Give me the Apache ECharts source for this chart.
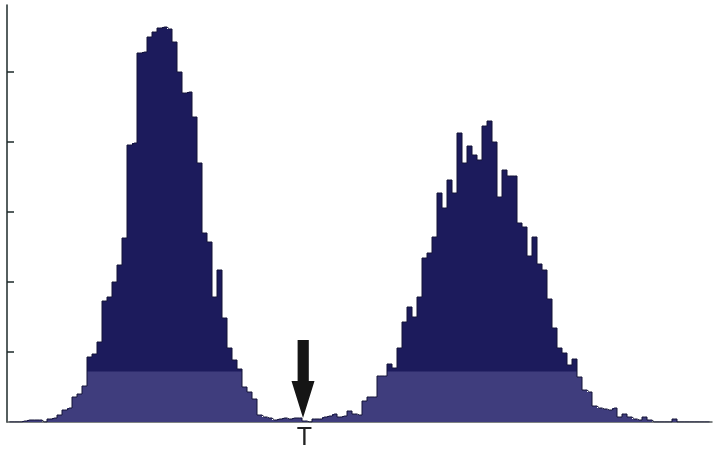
<!DOCTYPE html>
<html>
<head>
<meta charset="utf-8">
<script src="https://cdn.jsdelivr.net/npm/echarts@6/dist/echarts.min.js"></script>
<style>
html,body{margin:0;padding:0;background:#fff;}
#chart{width:714px;height:453px;}
</style>
</head>
<body>
<div id="chart"></div>
<script>
// Histogram bin counts (equal-width bins, left to right)
var binCounts = [
  0, 0, 0, 1, 2, 2, 2, 0, 3, 4,
  7, 12, 14, 25, 28, 36, 65, 68, 80, 121,
  125, 140, 157, 184, 277, 279, 369, 370, 385, 390,
  394, 395, 393, 380, 350, 329, 330, 305, 259, 189,
  180, 125, 152, 104, 74, 62, 53, 35, 30, 23,
  7, 5, 4, 2, 3, 4, 3, 4, 4, 1,
  0, 3, 3, 5, 6, 8, 5, 6, 11, 8,
  7, 21, 25, 25, 46, 46, 58, 54, 74, 100,
  115, 105, 125, 164, 169, 185, 229, 214, 242, 229,
  289, 259, 276, 267, 262, 296, 301, 280, 225, 252,
  246, 246, 199, 195, 166, 185, 158, 152, 123, 94,
  74, 69, 57, 63, 45, 32, 30, 16, 14, 13,
  12, 14, 5, 8, 5, 3, 2, 5, 2, 0,
  0, 0, 0, 3, 0, 0, 0, 0, 0, 0,
  0
];
var binLabels = binCounts.map(function (_, i) { return String(i + 1); });
var thresholdBin = 59;          // bin marked by the arrow
var thresholdLabel = 'T';
var yTickValues = [70, 140, 210, 280, 350];
var yMax = 417;

function band(dark, light) {
  return {
    type: 'linear', x: 0, y: 0, x2: 0, y2: 453, global: true,
    colorStops: [
      { offset: 0, color: dark },
      { offset: 371 / 453, color: dark },
      { offset: 372 / 453, color: light },
      { offset: 1, color: light }
    ]
  };
}

var chart = echarts.init(document.getElementById('chart'), null, { renderer: 'canvas' });
chart.setOption({
  animation: false,
  backgroundColor: '#ffffff',
  grid: { left: 7, right: 2, top: 5, bottom: 31 },
  xAxis: {
    type: 'category',
    data: binLabels,
    boundaryGap: true,
    axisLine: { show: true, lineStyle: { color: '#555b5b', width: 1.5 } },
    axisTick: { show: false },
    axisLabel: {
      show: true,
      interval: function (index) { return index === thresholdBin; },
      formatter: function () { return thresholdLabel; },
      color: '#222222',
      fontFamily: 'Liberation Sans',
      fontSize: 25,
      margin: 4
    },
    splitLine: { show: false }
  },
  yAxis: {
    type: 'value',
    min: 0,
    max: yMax,
    axisLine: { show: true, lineStyle: { color: '#1e2a2a', width: 1.5 } },
    axisTick: {
      show: true, inside: true, length: 7,
      customValues: yTickValues,
      lineStyle: { color: '#1e2a2a', width: 1.5 }
    },
    axisLabel: { show: false },
    splitLine: { show: false }
  },
  series: [{
    type: 'bar',
    data: binCounts,
    barCategoryGap: '0%',
    barGap: '0%',
    itemStyle: { color: band('#1c1b5c', '#3f3d7d') },
    emphasis: { disabled: true },
    markPoint: {
      silent: true,
      animation: false,
      label: { show: false },
      data: [{
        coord: [thresholdBin, 0],
        symbol: 'path://M6,0 L17,0 L17,41 L22.6,41 L11.3,78 L0,41 L6,41 Z',
        symbolSize: [23, 78],
        symbolKeepAspect: false,
        symbolOffset: [-1.5, -43],
        itemStyle: { color: band('#151515', '#3a3a3c') }
      }]
    }
  }, {
    type: 'line',
    data: binCounts,
    step: 'middle',
    symbol: 'none',
    silent: true,
    z: 3,
    lineStyle: { color: '#121236', width: 1 },
    emphasis: { disabled: true }
  }]
});
</script>
</body>
</html>
